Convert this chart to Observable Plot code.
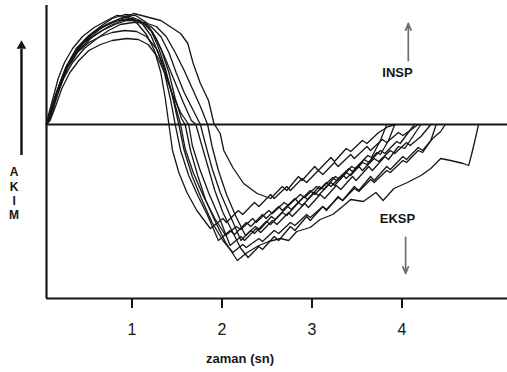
<!DOCTYPE html>
<html>
<head>
<meta charset="utf-8">
<script src="https://cdn.jsdelivr.net/npm/d3@7"></script>
<script src="https://cdn.jsdelivr.net/npm/@observablehq/plot@0.6"></script>
<style>
  html, body { margin: 0; padding: 0; background: #fff; }
  #chart svg { display: block; }
</style>
</head>
<body>
<div id="chart"></div>
<script>
// Flow (AKIM) against time (zaman, s) for ten superimposed breaths.
// Each breath: [time in s, flow in relative units]; inspiration positive, expiration negative.
const breathA = [[0.05,0],[0.15,0.29],[0.26,0.56],[0.43,0.79],[0.65,0.96],[0.87,1.06],[1.02,1.11],[1.32,1.04],[1.54,0.91],[1.62,0.81],[1.68,0.61],[1.76,0.41],[1.85,0.24],[1.91,0.01],[1.98,-0.09],[2.02,-0.26],[2.12,-0.43],[2.24,-0.59],[2.39,-0.69],[2.54,-0.74],[2.67,-0.62],[2.72,-0.66],[2.85,-0.52],[2.89,-0.56],[3.03,-0.42],[3.07,-0.46],[3.21,-0.33],[3.25,-0.37],[3.38,-0.24],[3.43,-0.27],[3.56,-0.16],[3.61,-0.19],[3.74,-0.08],[3.85,-0.02],[3.93,0]];
const breathB = [[0.05,0],[0.09,0.12],[0.16,0.32],[0.23,0.49],[0.32,0.66],[0.43,0.79],[0.56,0.91],[0.71,0.99],[0.85,1.04],[0.98,1.06],[1.12,1.02],[1.23,0.92],[1.32,0.76],[1.41,0.52],[1.48,0.26],[1.55,0.06],[1.59,0],[1.65,-0.26],[1.73,-0.51],[1.82,-0.76],[1.93,-0.98],[2.04,-1.18],[2.17,-1.36],[2.28,-1.28],[2.41,-1.21],[2.52,-1.17],[2.65,-1.14],[2.74,-1.16],[2.83,-1.07],[2.98,-1.03],[3.09,-0.95],[3.23,-0.90],[3.34,-0.82],[3.43,-0.75],[3.57,-0.77],[3.71,-0.68],[3.79,-0.76],[3.91,-0.64],[4.06,-0.58],[4.21,-0.51],[4.32,-0.44],[4.43,-0.34],[4.54,-0.36],[4.68,-0.39],[4.74,-0.41],[4.77,-0.31],[4.81,-0.16],[4.85,0]];
const breathC = [[0.05,0],[0.12,0.16],[0.18,0.36],[0.27,0.58],[0.38,0.76],[0.52,0.89],[0.65,0.98],[0.78,1.06],[0.92,1.10],[1.04,1.09],[1.16,1.02],[1.27,0.86],[1.37,0.66],[1.47,0.44],[1.57,0.22],[1.66,0.04],[1.71,0],[1.76,-0.16],[1.84,-0.41],[1.92,-0.66],[2.01,-0.88],[2.12,-1.08],[2.21,-1.24],[2.29,-1.33],[2.41,-1.22],[2.45,-1.25],[2.58,-1.12],[2.63,-1.16],[2.76,-1.02],[2.81,-1.06],[2.94,-0.92],[2.98,-0.96],[3.12,-0.82],[3.16,-0.86],[3.29,-0.72],[3.34,-0.76],[3.47,-0.62],[3.52,-0.66],[3.65,-0.52],[3.69,-0.56],[3.83,-0.42],[3.87,-0.45],[4.01,-0.32],[4.05,-0.35],[4.18,-0.23],[4.23,-0.26],[4.34,-0.14],[4.43,-0.07],[4.48,0]];
const breathD = [[0.05,0],[0.07,0.09],[0.13,0.29],[0.18,0.46],[0.25,0.62],[0.34,0.76],[0.45,0.88],[0.58,0.97],[0.72,1.04],[0.83,1.09],[0.94,1.08],[1.05,1.02],[1.16,0.90],[1.25,0.74],[1.32,0.52],[1.37,0.26],[1.41,0],[1.45,-0.26],[1.52,-0.48],[1.61,-0.68],[1.72,-0.86],[1.82,-0.98],[1.87,-1.04],[2.01,-0.94],[2.05,-0.98],[2.18,-0.86],[2.23,-0.90],[2.36,-0.78],[2.41,-0.82],[2.54,-0.70],[2.58,-0.74],[2.72,-0.62],[2.76,-0.66],[2.89,-0.54],[2.94,-0.58],[3.07,-0.46],[3.12,-0.50],[3.25,-0.38],[3.29,-0.42],[3.43,-0.30],[3.47,-0.34],[3.61,-0.22],[3.65,-0.26],[3.78,-0.15],[3.83,-0.18],[3.96,-0.08],[4.01,-0.11],[4.12,-0.04],[4.18,0]];
const breathE = [[0.05,0],[0.11,0.14],[0.17,0.34],[0.25,0.52],[0.34,0.68],[0.47,0.82],[0.63,0.92],[0.76,0.99],[0.89,1.04],[1.01,1.06],[1.12,1.00],[1.21,0.89],[1.29,0.72],[1.36,0.52],[1.43,0.24],[1.48,0],[1.54,-0.26],[1.63,-0.51],[1.73,-0.71],[1.84,-0.91],[1.96,-1.16],[2.09,-1.06],[2.14,-1.10],[2.27,-0.98],[2.32,-1.02],[2.45,-0.90],[2.49,-0.94],[2.63,-0.82],[2.67,-0.86],[2.81,-0.74],[2.85,-0.78],[2.98,-0.66],[3.03,-0.70],[3.16,-0.58],[3.21,-0.62],[3.34,-0.50],[3.38,-0.54],[3.52,-0.42],[3.56,-0.46],[3.69,-0.34],[3.74,-0.37],[3.87,-0.26],[3.92,-0.29],[4.05,-0.18],[4.09,-0.21],[4.21,-0.12],[4.32,0]];
const breathF = [[0.05,0],[0.09,0.06],[0.15,0.24],[0.22,0.42],[0.29,0.58],[0.39,0.72],[0.52,0.82],[0.65,0.88],[0.78,0.92],[0.92,0.94],[1.05,0.93],[1.16,0.88],[1.27,0.76],[1.35,0.59],[1.43,0.36],[1.49,0.16],[1.54,0],[1.59,-0.24],[1.68,-0.48],[1.79,-0.71],[1.92,-0.94],[2.04,-1.11],[2.16,-1.02],[2.21,-1.05],[2.34,-0.94],[2.38,-0.98],[2.52,-0.86],[2.56,-0.89],[2.69,-0.78],[2.74,-0.81],[2.87,-0.70],[2.92,-0.73],[3.05,-0.62],[3.09,-0.65],[3.23,-0.53],[3.27,-0.56],[3.41,-0.44],[3.45,-0.47],[3.58,-0.35],[3.63,-0.38],[3.76,-0.26],[3.81,-0.29],[3.94,-0.17],[3.98,-0.19],[4.07,-0.08],[4.14,0]];
const breathG = [[0.05,0],[0.09,0.04],[0.15,0.18],[0.22,0.36],[0.31,0.52],[0.41,0.64],[0.52,0.74],[0.65,0.80],[0.78,0.84],[0.94,0.86],[1.07,0.85],[1.18,0.80],[1.28,0.68],[1.37,0.50],[1.45,0.30],[1.54,0.12],[1.63,0],[1.67,-0.21],[1.75,-0.44],[1.85,-0.68],[1.96,-0.91],[2.09,-1.21],[2.21,-1.12],[2.25,-1.16],[2.38,-1.04],[2.43,-1.08],[2.56,-0.96],[2.61,-1.00],[2.74,-0.88],[2.78,-0.92],[2.92,-0.79],[2.96,-0.83],[3.09,-0.70],[3.14,-0.74],[3.27,-0.61],[3.32,-0.65],[3.45,-0.52],[3.49,-0.56],[3.63,-0.42],[3.67,-0.46],[3.81,-0.32],[3.85,-0.35],[3.96,-0.22],[4.03,-0.24],[4.12,-0.12],[4.21,0]];
const breathH = [[0.05,0],[0.12,0.14],[0.19,0.36],[0.28,0.56],[0.41,0.74],[0.54,0.86],[0.67,0.94],[0.81,1.00],[0.94,1.04],[1.07,1.04],[1.21,0.98],[1.32,0.88],[1.41,0.72],[1.49,0.52],[1.58,0.32],[1.67,0.16],[1.76,0],[1.82,-0.21],[1.89,-0.44],[1.98,-0.68],[2.09,-0.91],[2.21,-1.16],[2.32,-1.06],[2.36,-1.09],[2.49,-0.97],[2.54,-1.00],[2.67,-0.88],[2.72,-0.91],[2.85,-0.78],[2.89,-0.81],[3.03,-0.68],[3.07,-0.71],[3.21,-0.58],[3.25,-0.61],[3.38,-0.48],[3.43,-0.51],[3.56,-0.38],[3.61,-0.40],[3.72,-0.28],[3.76,-0.30],[3.85,-0.16],[3.92,0]];
const breathI = [[0.05,0],[0.09,0.09],[0.16,0.28],[0.24,0.46],[0.34,0.62],[0.47,0.76],[0.61,0.86],[0.74,0.94],[0.87,1.00],[1.01,1.02],[1.14,1.02],[1.27,0.98],[1.38,0.88],[1.48,0.72],[1.58,0.54],[1.67,0.36],[1.76,0.18],[1.84,0],[1.89,-0.22],[1.96,-0.46],[2.05,-0.70],[2.15,-0.91],[2.26,-1.11],[2.37,-1.02],[2.42,-1.05],[2.55,-0.92],[2.59,-0.95],[2.73,-0.82],[2.77,-0.85],[2.91,-0.72],[2.95,-0.75],[3.08,-0.62],[3.13,-0.65],[3.26,-0.52],[3.31,-0.55],[3.44,-0.42],[3.48,-0.44],[3.62,-0.31],[3.66,-0.33],[3.76,-0.16],[3.83,0]];
const breathJ = [[0.05,0],[0.08,0.08],[0.14,0.26],[0.21,0.44],[0.28,0.60],[0.38,0.74],[0.49,0.86],[0.63,0.96],[0.76,1.02],[0.87,1.06],[0.98,1.08],[1.09,1.04],[1.21,0.94],[1.29,0.78],[1.37,0.56],[1.45,0.28],[1.52,0],[1.58,-0.26],[1.67,-0.52],[1.78,-0.76],[1.89,-0.98],[2.01,-1.16],[2.12,-1.28],[2.23,-1.20],[2.27,-1.23],[2.41,-1.14],[2.45,-1.17],[2.58,-1.06],[2.63,-1.09],[2.76,-0.98],[2.81,-1.01],[2.94,-0.90],[2.98,-0.93],[3.12,-0.82],[3.16,-0.85],[3.29,-0.73],[3.34,-0.76],[3.47,-0.64],[3.52,-0.67],[3.65,-0.55],[3.69,-0.58],[3.83,-0.46],[3.87,-0.48],[4.01,-0.36],[4.05,-0.38],[4.18,-0.26],[4.23,-0.28],[4.32,-0.16],[4.38,0]];

// Axis ticks and labels
const timeTicks = [1, 2, 3, 4];
const timeLabel = "zaman (sn)";
const flowLabel = "A\nK\nI\nM";
const phaseLabels = [
  {text: "INSP", t: 3.95, f: 0.52},
  {text: "EKSP", t: 3.95, f: -0.94}
];
const phaseArrows = [
  {t: 4.07, from: 0.64, to: 1.01},
  {t: 4.04, from: -1.13, to: -1.49}
];

const breaths = [breathA, breathB, breathC, breathD, breathE, breathF, breathG, breathH, breathI, breathJ];
const rows = breaths.flatMap((pts, i) => pts.map(([t, f]) => ({breath: i, t, f})));

const xDomain = [0.05, 5.172];
const yDomain = [-1.74, 1.19];
const ink = "#161616";
const font = "'Liberation Sans', Arial, Helvetica, sans-serif";

const chart = Plot.plot({
  width: 507,
  height: 372,
  marginLeft: 46,
  marginRight: 0,
  marginTop: 5,
  marginBottom: 74,
  style: {fontFamily: font, background: "#fff", color: ink},
  x: {domain: xDomain},
  y: {domain: yDomain, axis: null},
  marks: [
    // breath traces
    Plot.line(rows, {x: "t", y: "f", z: "breath", stroke: ink, strokeWidth: 1.3, strokeLinejoin: "round"}),
    // zero-flow baseline
    Plot.ruleY([0], {stroke: ink, strokeWidth: 2.2}),
    // axis lines
    Plot.ruleX([xDomain[0]], {stroke: ink, strokeWidth: 2.2}),
    Plot.ruleY([yDomain[0]], {stroke: ink, strokeWidth: 2.2}),
    Plot.axisX({ticks: timeTicks, tickFormat: d => String(d), tickSize: 10, tickPadding: 15,
                fontSize: 16, strokeWidth: 2, stroke: ink, label: null}),
    Plot.text([timeLabel], {x: 2.2, y: yDomain[0], dy: 64, lineAnchor: "bottom",
                            text: d => d, fontSize: 13, fontWeight: "bold", fill: ink}),
    // flow axis arrow and vertical label
    Plot.ruleX([-0.228], {y1: -0.31, y2: 0.75, stroke: ink, strokeWidth: 2.5}),
    Plot.dot([-0.228], {x: d => d, y: 0.786, symbol: "triangle", r: 3.6, fill: ink, stroke: null}),
    Plot.text([flowLabel], {x: -0.31, y: -0.415, lineAnchor: "top", lineHeight: 1.2,
                            text: d => d, fontSize: 12, fontWeight: "bold", fill: ink}),
    // phase annotations
    Plot.text(phaseLabels, {x: "t", y: "f", text: "text", fontSize: 13, fontWeight: "bold", fill: ink}),
    Plot.arrow(phaseArrows, {x: "t", y1: "from", y2: "to", stroke: "#6f6f6f", strokeWidth: 1.8,
                             strokeDasharray: "1,1", headLength: 6, headAngle: 45})
  ]
});
document.getElementById("chart").appendChild(chart);
</script>
</body>
</html>
